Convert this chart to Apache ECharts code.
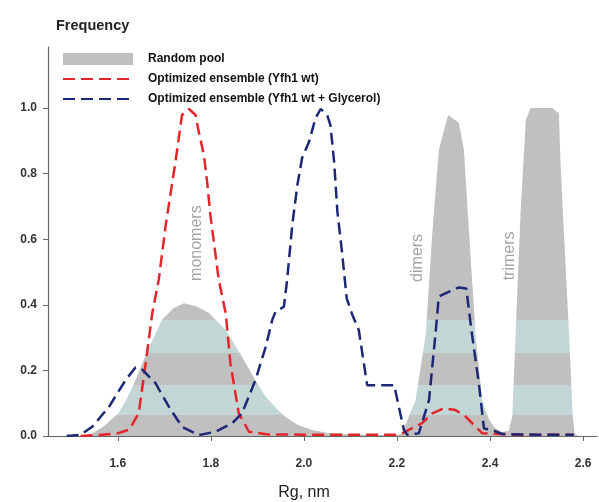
<!DOCTYPE html>
<html>
<head>
<meta charset="utf-8">
<script src="https://cdn.jsdelivr.net/npm/echarts@6/dist/echarts.min.js"></script>
<style>
html,body{margin:0;padding:0;background:#fff;}
#c{width:599px;height:502px;}
</style>
</head>
<body>
<div id="c"></div>
<script>
// Random pool (Rg nm, frequency)
const poolX = [1.53,1.545,1.57,1.602,1.62,1.638,1.667,1.695,1.72,1.742,1.77,1.796,1.832,1.855,1.875,1.898,1.918,1.94,1.96,1.985,2.017,2.05,2.1,2.15,2.2,2.211,2.24,2.262,2.276,2.29,2.31,2.333,2.344,2.355,2.369,2.383,2.398,2.41,2.425,2.44,2.448,2.455,2.466,2.477,2.487,2.534,2.548,2.552,2.559,2.57,2.578,2.582,2.59];
const poolY = [0,0.008,0.03,0.07,0.115,0.17,0.27,0.354,0.39,0.405,0.395,0.375,0.323,0.27,0.222,0.165,0.12,0.085,0.059,0.035,0.018,0.01,0.005,0.003,0.003,0.008,0.11,0.31,0.62,0.872,0.979,0.955,0.872,0.62,0.31,0.11,0.05,0.025,0.012,0.015,0.06,0.31,0.69,0.963,1.0,1.0,0.984,0.82,0.62,0.31,0.06,0.008,0];

// Optimized ensemble (Yfh1 wt)
const wtX = [1.52,1.56,1.6,1.625,1.645,1.66,1.674,1.688,1.703,1.713,1.724,1.738,1.753,1.767,1.774,1.785,1.792,1.799,1.817,1.832,1.842,1.86,1.882,1.92,2.0,2.1,2.2,2.211,2.254,2.276,2.301,2.326,2.348,2.369,2.384,2.45,2.58];
const wtY = [0,0.003,0.008,0.02,0.069,0.222,0.374,0.476,0.643,0.735,0.836,0.979,0.997,0.979,0.928,0.857,0.775,0.674,0.476,0.374,0.222,0.069,0.013,0.005,0.004,0.004,0.004,0.008,0.039,0.069,0.084,0.079,0.059,0.028,0.008,0.004,0.004];

// Optimized ensemble (Yfh1 wt + Glycerol)
const glyX = [1.49,1.52,1.545,1.581,1.617,1.638,1.652,1.681,1.71,1.738,1.774,1.81,1.846,1.867,1.896,1.918,1.932,1.939,1.957,1.964,1.975,1.986,1.996,2.011,2.025,2.036,2.05,2.057,2.065,2.072,2.082,2.092,2.104,2.118,2.136,2.194,2.215,2.222,2.247,2.269,2.283,2.29,2.312,2.333,2.349,2.361,2.376,2.387,2.405,2.426,2.5,2.58];
const glyY = [0,0.004,0.028,0.089,0.171,0.209,0.203,0.161,0.089,0.028,0.003,0.013,0.039,0.069,0.171,0.272,0.354,0.379,0.394,0.476,0.643,0.765,0.847,0.897,0.969,0.997,0.979,0.948,0.836,0.684,0.56,0.42,0.37,0.323,0.155,0.155,0.018,0.004,0.008,0.11,0.313,0.425,0.44,0.453,0.45,0.313,0.161,0.023,0.018,0.006,0.004,0.004];

const xTicks = [1.6,1.8,2.0,2.2,2.4,2.6];
const yTicks = [0,0.2,0.4,0.6,0.8,1.0];

// group labels [x, y, text]
const groupLabels = [[1.77,0.588,'monomers'],[2.245,0.543,'dimers'],[2.442,0.549,'trimers']];

// light stripe bands within the random pool (frequency ranges)
const bandEdges = [[0.064,0.155],[0.253,0.354]];

const zip = (a,b) => a.map((v,i)=>[v,b[i]]);

const GRAY = '#c0c0c0', BAND = '#c3d6d6', RED = '#e3252b', NAVY = '#1d2874';
const Y_MAX = 1.186;

const chart = echarts.init(document.getElementById('c'), null, {renderer:'canvas'});
const font = 'Liberation Sans, Arial, sans-serif';

const option = {
  animation: false,
  backgroundColor: '#fff',
  textStyle: {fontFamily: font},
  title: [
    {text: 'Frequency', left: 51, top: 13,
     textStyle: {fontSize: 14.5, fontWeight: 'bold', color: '#222', fontFamily: font}},
    {text: 'Rg, nm', left: 299, top: 480, textAlign: 'center',
     textStyle: {fontSize: 16, fontWeight: 'normal', color: '#222', fontFamily: font}}
  ],
  legend: {
    orient: 'vertical', left: 62, top: 53, padding: 0, itemWidth: 70, itemHeight: 12, itemGap: 8,
    itemStyle: {opacity: 0},
    textStyle: {fontSize: 12, fontWeight: 'bold', color: '#111', fontFamily: font, padding:[0,0,0,10]},
    data: [
      {name: 'Random pool', icon: 'rect', itemStyle: {color: GRAY, opacity: 1}},
      {name: 'Optimized ensemble (Yfh1 wt)'},
      {name: 'Optimized ensemble (Yfh1 wt + Glycerol)'}
    ]
  },
  grid: {left: 48, right: 2, top: 47, bottom: 66, containLabel: false},
  xAxis: {
    type: 'value', min: 1.45, max: 2.63,
    axisLine: {lineStyle: {color: '#666', width: 1.2}},
    axisTick: {show: true, customValues: xTicks, length: 5, lineStyle: {color: '#666'}},
    axisLabel: {customValues: xTicks, formatter: v => v.toFixed(1), fontSize: 12, fontWeight: 'bold', color: '#333', margin: 22},
    splitLine: {show: false}
  },
  yAxis: {
    type: 'value', min: 0, max: Y_MAX,
    axisLine: {show: true, lineStyle: {color: '#666', width: 1.2}},
    axisTick: {show: true, customValues: yTicks, length: 5, lineStyle: {color: '#666'}},
    axisLabel: {customValues: yTicks, formatter: v => v.toFixed(1), fontSize: 12, fontWeight: 'bold', color: '#333', margin: 11},
    splitLine: {show: false}
  },
  series: [
    {
      name: 'Random pool', type: 'line', data: zip(poolX, poolY), symbol: 'none',
      lineStyle: {width: 0}, itemStyle: {color: GRAY},
      areaStyle: {color: GRAY, opacity: 1}, z: 1
    },
    {
      name: 'Optimized ensemble (Yfh1 wt)', type: 'line', data: zip(wtX, wtY), symbol: 'none',
      itemStyle: {color: RED},
      lineStyle: {color: RED, width: 2.5, type: [12, 6]}, z: 3
    },
    {
      name: 'Optimized ensemble (Yfh1 wt + Glycerol)', type: 'line', data: zip(glyX, glyY), symbol: 'none',
      itemStyle: {color: NAVY},
      lineStyle: {color: NAVY, width: 2.5, type: [12, 6]}, z: 4
    },
    {
      name: 'labels', type: 'scatter', data: groupLabels, symbolSize: 0, silent: true, z: 2,
      label: {show: true, position: 'inside', rotate: 90, formatter: p => p.value[2],
        fontSize: 16, color: '#8d8d8d', fontFamily: font}
    }
  ]
};
chart.setOption(option);

// build striped fill using pixel positions from the axis scale
const yTop = chart.convertToPixel({gridIndex: 0}, [2, Y_MAX])[1];
const yBot = chart.convertToPixel({gridIndex: 0}, [2, 0])[1];
const off = v => (chart.convertToPixel({gridIndex: 0}, [2, v])[1] - yTop) / (yBot - yTop);
const stops = [{offset: 0, color: GRAY}];
bandEdges.slice().sort((a,b)=>b[1]-a[1]).forEach(([lo, hi]) => {
  stops.push({offset: off(hi), color: GRAY});
  stops.push({offset: off(hi), color: BAND});
  stops.push({offset: off(lo), color: BAND});
  stops.push({offset: off(lo), color: GRAY});
});
stops.push({offset: 1, color: GRAY});
chart.setOption({series: [{
  name: 'Random pool',
  areaStyle: {color: new echarts.graphic.LinearGradient(0, yTop, 0, yBot, stops, true), opacity: 1}
}]});
</script>
</body>
</html>
